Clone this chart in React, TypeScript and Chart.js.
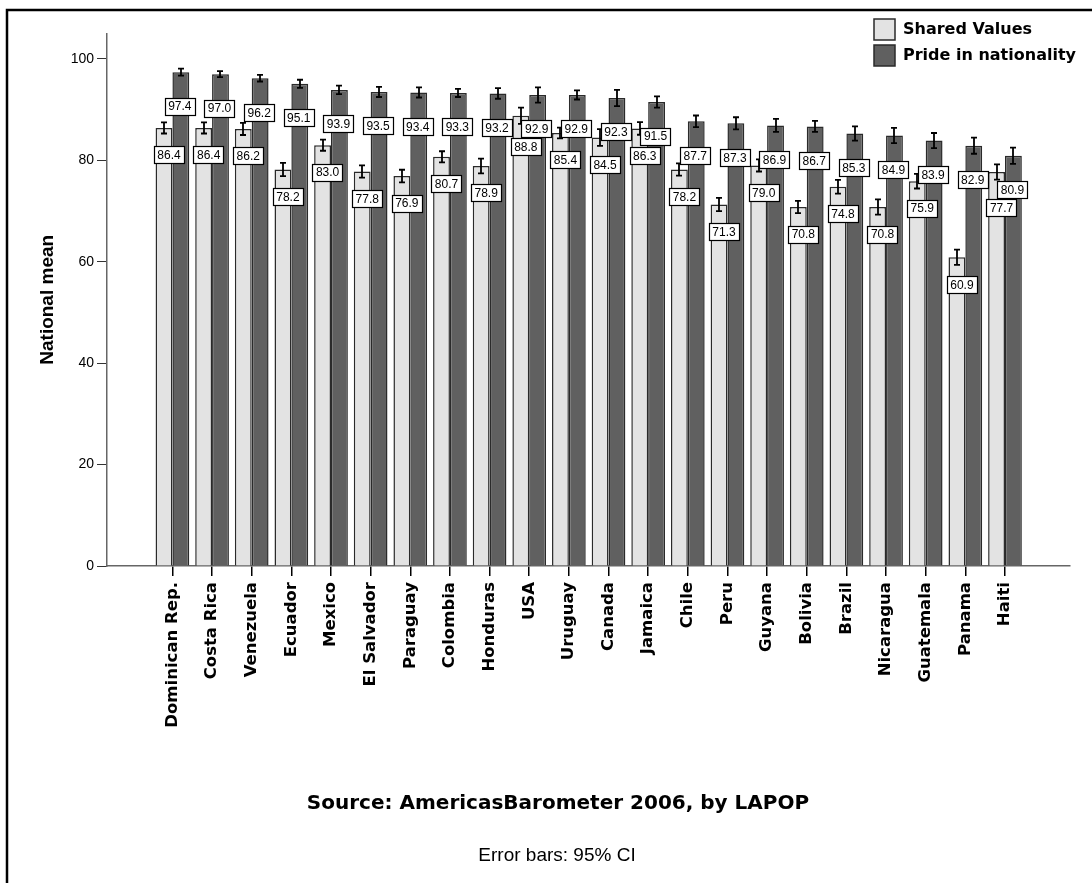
import React, { useEffect, useRef } from 'react';
import { Chart, registerables } from 'chart.js';

Chart.register(...registerables);

// ---------- data ----------
const countries = [
  'Dominican Rep.', 'Costa Rica', 'Venezuela', 'Ecuador', 'Mexico', 'El Salvador',
  'Paraguay', 'Colombia', 'Honduras', 'USA', 'Uruguay', 'Canada', 'Jamaica', 'Chile',
  'Peru', 'Guyana', 'Bolivia', 'Brazil', 'Nicaragua', 'Guatemala', 'Panama', 'Haiti',
];
const sharedValues = [86.4, 86.4, 86.2, 78.2, 83.0, 77.8, 76.9, 80.7, 78.9, 88.8, 85.4, 84.5, 86.3, 78.2, 71.3, 79.0, 70.8, 74.8, 70.8, 75.9, 60.9, 77.7];
const prideValues = [97.4, 97.0, 96.2, 95.1, 93.9, 93.5, 93.4, 93.3, 93.2, 92.9, 92.9, 92.3, 91.5, 87.7, 87.3, 86.9, 86.7, 85.3, 84.9, 83.9, 82.9, 80.9];
// 95% CI half-widths (estimated)
const sharedCI = [1.1, 1.1, 1.2, 1.3, 1.1, 1.2, 1.25, 1.1, 1.45, 1.6, 1.05, 1.65, 1.25, 1.2, 1.3, 1.2, 1.2, 1.35, 1.5, 1.45, 1.5, 1.5];
const prideCI = [0.7, 0.6, 0.65, 0.8, 0.85, 1.0, 1.0, 0.8, 1.05, 1.5, 0.9, 1.6, 1.1, 1.15, 1.2, 1.3, 1.1, 1.4, 1.5, 1.5, 1.6, 1.6];
const yTickValues = [0, 20, 40, 60, 80, 100];
const seriesNames = ['Shared Values', 'Pride in nationality'];
const axisTitle = 'National mean';
const sourceText = 'Source: AmericasBarometer 2006, by LAPOP';
const noteText = 'Error bars: 95% CI';

// ---------- style ----------
const W = 1092;
const H = 883;
const LIGHT = '#e3e3e3';
const DARK = '#606060';
const EDGE = '#2a2a2a';
const SANS = '"Liberation Sans", Arial, sans-serif';
const HEAVY = '"DejaVu Sans", "Liberation Sans", Arial, sans-serif';
const X_PAD_LEFT = 1.65;
const X_PAD_RIGHT = 1.64;
const LABEL_DROP = [27, 34]; // px below bar top where each series' value label sits
const LABEL_SHIFT = [5, -1];

const seriesValues = [sharedValues, prideValues];
const seriesCI = [sharedCI, prideCI];
const seriesColors = [LIGHT, DARK];

const overlayPlugin = {
  id: 'overlay',
  afterDatasetsDraw(chart: any) {
    const ctx = chart.ctx;
    const yScale = chart.scales.y;
    // error bars
    ctx.save();
    ctx.strokeStyle = '#000';
    ctx.lineWidth = 1.8;
    [0, 1].forEach((di) => {
      const meta = chart.getDatasetMeta(di);
      meta.data.forEach((el: any, i: number) => {
        const v = seriesValues[di][i];
        const ci = seriesCI[di][i];
        const yHi = yScale.getPixelForValue(v + ci);
        const yLo = yScale.getPixelForValue(v - ci);
        const x = Math.round(el.x);
        ctx.beginPath();
        ctx.moveTo(x, yHi);
        ctx.lineTo(x, yLo);
        ctx.moveTo(x - 3, yHi);
        ctx.lineTo(x + 3, yHi);
        ctx.moveTo(x - 3, yLo);
        ctx.lineTo(x + 3, yLo);
        ctx.stroke();
      });
    });
    ctx.restore();

    // value labels
    ctx.save();
    ctx.font = '12px ' + SANS;
    ctx.textAlign = 'center';
    ctx.textBaseline = 'middle';
    const boxH = 17;
    const placed: { x0: number; x1: number; y0: number; y1: number }[] = [];
    [1, 0].forEach((di) => {
      const meta = chart.getDatasetMeta(di);
      meta.data.forEach((el: any, i: number) => {
        const text = seriesValues[di][i].toFixed(1);
        const w = ctx.measureText(text).width + 7;
        const cx = el.x + LABEL_SHIFT[di];
        let cy = el.y + LABEL_DROP[di];
        let moved = true;
        let guard = 0;
        while (moved && guard < 50) {
          moved = false;
          guard++;
          for (const p of placed) {
            if (cx - w / 2 < p.x1 && cx + w / 2 > p.x0 && cy - boxH / 2 < p.y1 && cy + boxH / 2 > p.y0) {
              cy = p.y1 + boxH / 2 + 1;
              moved = true;
            }
          }
        }
        const r = { x0: cx - w / 2, x1: cx + w / 2, y0: cy - boxH / 2, y1: cy + boxH / 2 };
        placed.push(r);
        ctx.fillStyle = '#fff';
        ctx.fillRect(Math.round(r.x0) + 0.5, Math.round(r.y0) + 0.5, Math.round(w), boxH);
        ctx.strokeStyle = '#000';
        ctx.lineWidth = 1.2;
        ctx.strokeRect(Math.round(r.x0) + 0.5, Math.round(r.y0) + 0.5, Math.round(w), boxH);
        ctx.fillStyle = '#000';
        ctx.fillText(text, cx, cy + 1);
      });
    });
    ctx.restore();
  },
  afterDraw(chart: any) {
    const ctx = chart.ctx;
    ctx.save();
    // frame
    ctx.strokeStyle = '#000';
    ctx.lineWidth = 2.5;
    ctx.beginPath();
    ctx.moveTo(7, H + 5);
    ctx.lineTo(7, 10);
    ctx.lineTo(W + 5, 10);
    ctx.stroke();

    // legend
    ctx.font = 'bold 16px ' + HEAVY;
    ctx.textAlign = 'left';
    ctx.textBaseline = 'middle';
    seriesNames.forEach((name, k) => {
      const by = 19 + k * 26;
      ctx.fillStyle = seriesColors[k];
      ctx.fillRect(874, by, 21, 21);
      ctx.strokeStyle = EDGE;
      ctx.lineWidth = 1.5;
      ctx.strokeRect(874, by, 21, 21);
      ctx.fillStyle = '#000';
      ctx.fillText(name, 903, by + 11);
    });

    // source + note
    ctx.textAlign = 'center';
    ctx.font = 'bold 20px ' + HEAVY;
    ctx.fillText(sourceText, 558, 804);
    ctx.font = '19px ' + SANS;
    ctx.fillText(noteText, 557, 856);
    ctx.restore();
  },
};

export default function App() {
  const ref = useRef<HTMLCanvasElement | null>(null);

  useEffect(() => {
    if (!ref.current) return;
    const chart = new Chart(ref.current, {
      type: 'bar',
      data: {
        datasets: [0, 1].map((di) => ({
          label: seriesNames[di],
          data: countries.map((_, i) => ({ x: i, y: seriesValues[di][i] })),
          backgroundColor: seriesColors[di],
          borderColor: EDGE,
          borderWidth: 1.5,
          categoryPercentage: 0.85,
          barPercentage: 1.0,
        })),
      },
      options: {
        animation: false,
        responsive: false,
        devicePixelRatio: 1,
        layout: { padding: { top: 33.6, right: 22, bottom: 0, left: 0 } },
        plugins: {
          legend: { display: false },
          tooltip: { enabled: false },
        },
        scales: {
          x: {
            type: 'linear',
            offset: false,
            min: -X_PAD_LEFT,
            max: countries.length - 1 + X_PAD_RIGHT,
            afterBuildTicks: (s: any) => {
              s.ticks = countries.map((_, i) => ({ value: i }));
            },
            afterFit: (s: any) => {
              s.height = H - 566;
            },
            ticks: {
              autoSkip: false,
              minRotation: 90,
              maxRotation: 90,
              padding: 6,
              color: '#000',
              font: { family: HEAVY, weight: 'bold', size: 16.5 },
              callback: (v: any) => countries[Math.round(Number(v))] ?? '',
            },
            grid: {
              display: true,
              offset: false,
              drawOnChartArea: false,
              drawTicks: true,
              tickLength: 10,
              color: '#000',
              lineWidth: 1.5,
            },
            border: { display: true, color: '#666', width: 1.5 },
          },
          y: {
            type: 'linear',
            min: 0,
            max: 105,
            afterBuildTicks: (s: any) => {
              s.ticks = yTickValues.map((v) => ({ value: v }));
            },
            afterFit: (s: any) => {
              s.width = 107;
            },
            ticks: {
              padding: 3,
              color: '#000',
              font: { family: SANS, size: 14 },
            },
            grid: {
              display: true,
              drawOnChartArea: false,
              drawTicks: true,
              tickLength: 10,
              color: '#333',
              lineWidth: 1,
            },
            border: { display: true, color: '#666', width: 1.5 },
            title: {
              display: true,
              text: axisTitle,
              color: '#000',
              font: { family: SANS, weight: 'bold', size: 19 },
              padding: { top: 36, bottom: 0 },
            },
          },
        },
      },
      plugins: [overlayPlugin],
    } as any);
    return () => chart.destroy();
  }, []);

  return (
    <div style={{ position: 'absolute', left: 0, top: 0, width: W, height: H, background: '#fff' }}>
      <canvas ref={ref} width={W} height={H} style={{ display: 'block' }} />
    </div>
  );
}
